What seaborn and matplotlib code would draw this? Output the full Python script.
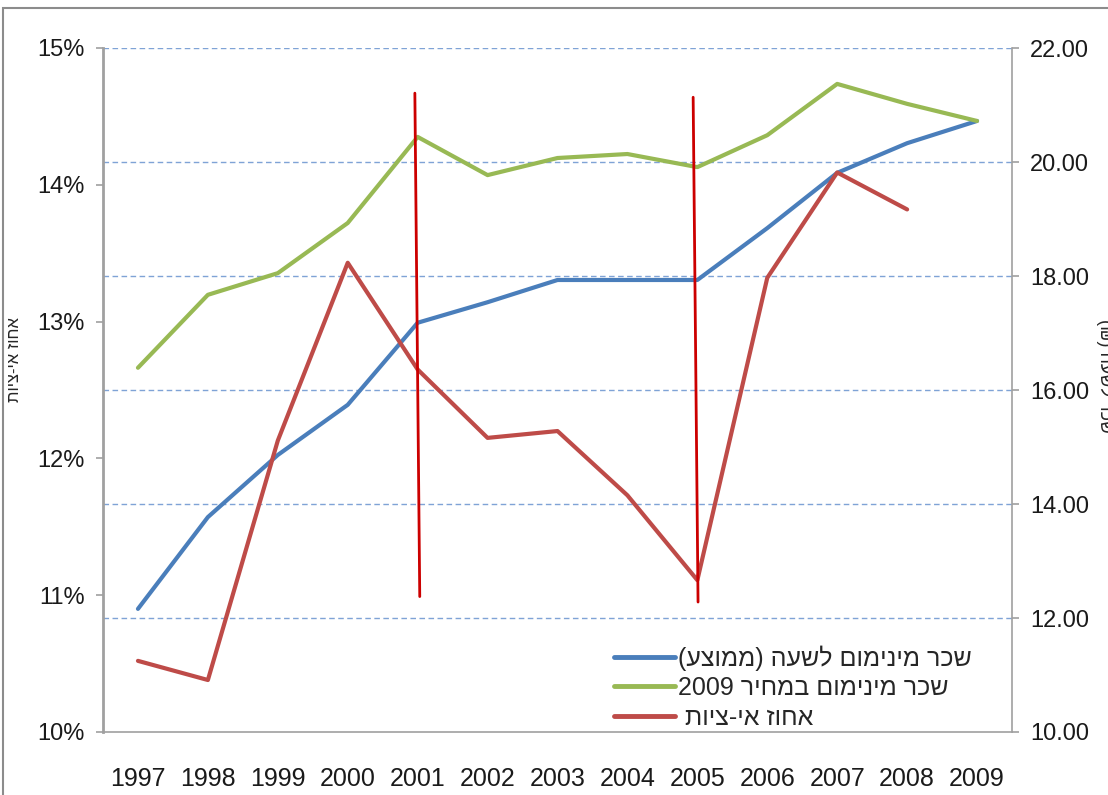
import re
import numpy as np
import pandas as pd
import matplotlib
matplotlib.use("Agg")
import matplotlib.pyplot as plt
from matplotlib.patches import Rectangle
import seaborn as sns

# ---------------- data ----------------
years = ["1997", "1998", "1999", "2000", "2001", "2002", "2003",
         "2004", "2005", "2006", "2007", "2008", "2009"]
wage_avg = [12.16, 13.77, 14.86, 15.74, 17.18, 17.54, 17.93,
            17.93, 17.93, 18.84, 19.81, 20.33, 20.72]
wage_2009 = [16.39, 17.67, 18.05, 18.93, 20.44, 19.77, 20.07,
             20.14, 19.91, 20.47, 21.37, 21.02, 20.72]
noncompliance = [10.52, 10.38, 12.13, 13.43, 12.65, 12.15, 12.20,
                 11.73, 11.11, 13.32, 14.09, 13.82, np.nan]

label_avg = "שכר מינימום לשעה (ממוצע)"
label_2009 = "שכר מינימום במחיר 2009"
label_nc = "אחוז אי-ציות "
ylabel_left = "אחוז אי-ציות"
ylabel_right = "שכר לשעה (₪)"

left_ticks = [10, 11, 12, 13, 14, 15]
right_ticks = [10, 12, 14, 16, 18, 20, 22]

# hand-drawn vertical markers (year, x offset top, x offset bottom, top %, bottom %)
marker_years = ["2001", "2005"]
marker_dx_top = [-0.04, -0.06]
marker_dx_bot = [0.03, 0.01]
marker_top = [14.67, 14.64]
marker_bot = [10.99, 10.95]


def rtl(s):
    r = s[::-1]
    r = re.sub(r"\d+", lambda m: m.group(0)[::-1], r)
    return r.translate(str.maketrans("()", ")("))


# ---------------- style ----------------
sns.set_theme(style="white")
plt.rcParams["font.family"] = ["Liberation Sans", "DejaVu Sans"]
narrow = ["Liberation Sans Narrow", "Liberation Sans", "DejaVu Sans"]

BLUE = "#4A7EBB"
GREEN = "#98B954"
RED = "#BE4B48"
MARK = "#CC0000"
GRID = "#7FA3D6"
SPINE = "#A0A0A0"

fig = plt.figure(figsize=(11.08, 7.95), dpi=100)
fig.patches.append(Rectangle((3 / 1108, -0.2), 1.2, 1.2 - 8 / 795, transform=fig.transFigure,
                             fill=False, edgecolor="#8C8C8C", linewidth=1.5, zorder=0))
ax = fig.add_axes([103 / 1108, 1 - 732 / 795, 909 / 1108, 684 / 795])
ax2 = ax.twinx()

df = pd.DataFrame({"idx": np.arange(len(years)), "avg": wage_avg,
                   "real": wage_2009, "nc": noncompliance})

# right axis lines
sns.lineplot(data=df, x="idx", y="avg", ax=ax2, color=BLUE, linewidth=3.0,
             label=rtl(label_avg), legend=False)
sns.lineplot(data=df, x="idx", y="real", ax=ax2, color=GREEN, linewidth=3.0,
             label=rtl(label_2009), legend=False)
# left axis line
sns.lineplot(data=df.dropna(), x="idx", y="nc", ax=ax, color=RED, linewidth=3.0,
             label=rtl(label_nc), legend=False)

ax.set_zorder(ax2.get_zorder() + 1)
ax.patch.set_visible(False)

# vertical markers
for yr, dt, db, t, b in zip(marker_years, marker_dx_top, marker_dx_bot, marker_top, marker_bot):
    i = years.index(yr)
    ax.plot([i + dt, i + db], [t, b], color=MARK, linewidth=2.0, zorder=5)

# axes limits & ticks
ax.set_xlim(-0.5, len(years) - 0.5)
ax.set_ylim(10, 15)
ax2.set_ylim(10, 22)

ax.set_yticks(left_ticks)
ax.set_yticklabels([f"{v}%" for v in left_ticks], fontsize=17, family=narrow, color="#1a1a1a")
ax2.set_yticks(right_ticks)
ax2.set_yticklabels([f"{v:.2f}" for v in right_ticks], fontsize=17, family=narrow, color="#1a1a1a")

ax.set_xticks(np.arange(len(years)))
ax.set_xticklabels(years, fontsize=18, family=narrow, color="#1a1a1a")
ax.set_xticks(np.arange(-0.5, len(years)), minor=True)
ax.tick_params(axis="x", which="major", length=0, pad=25)
ax.tick_params(axis="x", which="minor", length=7, width=1.2, color=SPINE, direction="out")
ax.tick_params(axis="y", length=5, width=1.2, color=SPINE, direction="out", pad=8, left=True)
ax2.tick_params(axis="y", length=5, width=1.2, color=SPINE, direction="out", pad=8, right=True)

# gridlines from right axis
ax2.grid(False)
ax.grid(False)
for v in right_ticks[1:]:
    ax2.axhline(v, color=GRID, linestyle=(0, (4, 2.5)), linewidth=1.0, zorder=0)

for a in (ax, ax2):
    for s in a.spines.values():
        s.set_visible(False)
ax.spines["left"].set_visible(True)
ax.spines["left"].set_color(SPINE)
ax.spines["left"].set_linewidth(2)
ax.spines["bottom"].set_visible(True)
ax.spines["bottom"].set_color(SPINE)
ax.spines["bottom"].set_linewidth(1.2)
ax2.spines["right"].set_visible(True)
ax2.spines["right"].set_color(SPINE)
ax2.spines["right"].set_linewidth(1.2)

ax.set_xlabel("")
ax.set_ylabel(rtl(ylabel_left), fontsize=12, rotation=90)
ax.yaxis.set_label_coords(-0.089, 0.544)
ax2.set_ylabel(rtl(ylabel_right), fontsize=13, rotation=-90, va="center")
ax2.yaxis.set_label_coords(1.103, 0.52)

# legend
h2, l2 = ax2.get_legend_handles_labels()
h1, l1 = ax.get_legend_handles_labels()
leg = ax2.legend(h2 + h1, l2 + l1, loc="lower right", bbox_to_anchor=(0.975, -0.022),
                 frameon=False, fontsize=18, handlelength=2.45, handletextpad=0.12,
                 labelspacing=0.22, borderpad=0.2)
for line in leg.get_lines():
    line.set_linewidth(3.5)

fig.savefig("out.png", dpi=100)
